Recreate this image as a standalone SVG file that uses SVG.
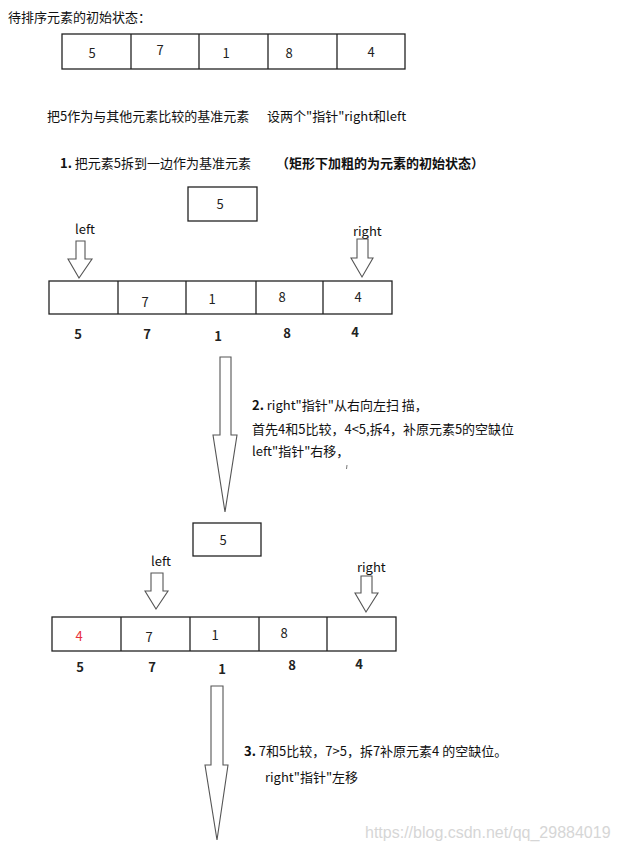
<svg xmlns="http://www.w3.org/2000/svg" width="617" height="850" viewBox="0 0 617 850">
<style>
text{font-family:"Noto Sans CJK SC","Microsoft YaHei","Noto Sans",sans-serif;font-size:13px;fill:#111}
.n{text-anchor:middle;font-size:13px;fill:#222}
.b{font-weight:bold}
.cell{fill:#fff;stroke:#222;stroke-width:1.3}
.arr{fill:#fff;stroke:#555;stroke-width:1.1;stroke-linejoin:miter}
.wm{font-family:"Liberation Sans",Arial,sans-serif;font-size:16px;fill:#d6d6d6}
</style>
<rect width="617" height="850" fill="#fff"/>

<text x="8" y="22">待排序元素的初始状态：</text>

<g id="array0">
<rect class="cell" x="62" y="34" width="343" height="35"/>
<line class="cell" x1="131" y1="34" x2="131" y2="69"/>
<line class="cell" x1="199" y1="34" x2="199" y2="69"/>
<line class="cell" x1="268" y1="34" x2="268" y2="69"/>
<line class="cell" x1="337" y1="34" x2="337" y2="69"/>
<text class="n" x="92" y="58">5</text>
<text class="n" x="160" y="55">7</text>
<text class="n" x="226" y="58">1</text>
<text class="n" x="289" y="58">8</text>
<text class="n" x="371" y="57">4</text>
</g>

<text x="47" y="121">把5作为与其他元素比较的基准元素</text>
<text x="267" y="121">设两个"指针"right和left</text>

<text x="60" y="168"><tspan class="b">1.</tspan> 把元素5拆到一边作为基准元素</text>
<text x="276" y="168" class="b">（矩形下加粗的为元素的初始状态）</text>

<g id="pivot1">
<rect class="cell" x="188" y="187" width="69" height="34"/>
<text class="n" x="220" y="209">5</text>
</g>

<g id="left1">
<text x="75" y="234">left</text>
<polygon class="arr" points="76,241 85,241 85,259 92,259 79,278 68,259 76,259"/>
</g>
<g id="right1">
<text x="353" y="236">right</text>
<polygon class="arr" points="357,239 368,239 368,258 373,258 362,277 351,258 357,258"/>
</g>

<g id="array1">
<rect class="cell" x="49" y="281" width="343" height="33"/>
<line class="cell" x1="118" y1="281" x2="118" y2="314"/>
<line class="cell" x1="186" y1="281" x2="186" y2="314"/>
<line class="cell" x1="256" y1="281" x2="256" y2="314"/>
<line class="cell" x1="323" y1="281" x2="323" y2="314"/>
<text class="n" x="145" y="307">7</text>
<text class="n" x="212" y="304">1</text>
<text class="n" x="282" y="302">8</text>
<text class="n" x="358" y="302">4</text>
</g>
<g id="labels1">
<text class="n b" x="78" y="339">5</text>
<text class="n b" x="147" y="339">7</text>
<text class="n b" x="218" y="341">1</text>
<text class="n b" x="287" y="338">8</text>
<text class="n b" x="355" y="337">4</text>
</g>

<g id="connectors">
<polygon class="arr" points="220,357 231,357 231,435 237,435 225,512 213,435 220,435"/>
<polygon class="arr" points="211,686 223,686 223,765 228,765 217,840 205,765 211,765"/>
</g>

<g id="step2">
<text x="252" y="410"><tspan class="b">2.</tspan> right"指针"从右向左扫 描，</text>
<text x="252" y="434">首先4和5比较，4&lt;5,拆4，补原元素5的空缺位</text>
<text x="252" y="456">left"指针"右移，</text>
<line x1="347" y1="465" x2="346.5" y2="469" stroke="#777" stroke-width="1"/>
</g>

<g id="pivot2">
<rect class="cell" x="193" y="523" width="68" height="33"/>
<text class="n" x="223" y="545">5</text>
</g>

<g id="left2">
<text x="151" y="566">left</text>
<polygon class="arr" points="151,573 163,573 163,591 168,591 156,609 145,591 151,591"/>
</g>
<g id="right2">
<text x="357" y="572">right</text>
<polygon class="arr" points="361,576 372,576 372,593 378,593 366,612 355,593 361,593"/>
</g>

<g id="array2">
<rect class="cell" x="52" y="617" width="344" height="34"/>
<line class="cell" x1="121" y1="617" x2="121" y2="651"/>
<line class="cell" x1="190" y1="617" x2="190" y2="651"/>
<line class="cell" x1="259" y1="617" x2="259" y2="651"/>
<line class="cell" x1="327" y1="617" x2="327" y2="651"/>
<text class="n" x="79" y="641" style="fill:#e8303a">4</text>
<text class="n" x="149" y="642">7</text>
<text class="n" x="215" y="640">1</text>
<text class="n" x="284" y="638">8</text>
</g>
<g id="labels2">
<text class="n b" x="80" y="672">5</text>
<text class="n b" x="152" y="672">7</text>
<text class="n b" x="222" y="674">1</text>
<text class="n b" x="292" y="670">8</text>
<text class="n b" x="359" y="669">4</text>
</g>

<g id="step3">
<text x="244" y="756"><tspan class="b">3.</tspan>  7和5比较，7&gt;5，拆7补原元素4 的空缺位。</text>
<text x="265" y="782">right"指针"左移</text>
</g>

<text class="wm" x="365" y="838">https://blog.csdn.net/qq_29884019</text>
</svg>
